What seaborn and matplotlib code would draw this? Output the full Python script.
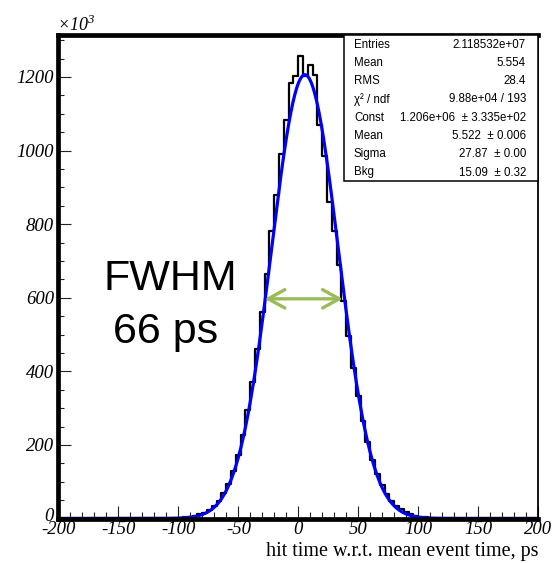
import numpy as np
import pandas as pd
import matplotlib
matplotlib.use("Agg")
import matplotlib.pyplot as plt
import matplotlib.transforms as mtransforms
import seaborn as sns
from matplotlib.ticker import MultipleLocator
from matplotlib.patches import Rectangle

# ---------------- data ----------------
bin_edges = list(range(-200, 201, 4))  # 4 ps bins
counts_k = [  # entries per bin, x10^3
    0.02, 0.02, 0.02, 0.02, 0.02, 0.02, 0.02, 0.02, 0.02, 0.02,
    0.02, 0.02, 0.02, 0.02, 0.02, 0.02, 0.02, 0.02, 0.04, 0.07,
    0.12, 0.2, 0.35, 0.6, 1.0, 1.7, 2.8, 4.5, 7, 11,
    16, 24, 34, 48, 68, 94, 128, 172, 228, 295,
    372, 460, 560, 665, 780, 880, 990, 1083, 1184, 1203,
    1258, 1203, 1232, 1205, 1069, 985, 860, 780, 690, 590,
    495, 410, 333, 265, 207, 160, 121, 90, 66, 48,
    35, 25, 17, 11, 7, 4.5, 2.8, 1.7, 1.0, 0.6,
    0.35, 0.2, 0.12, 0.07, 0.04, 0.02, 0.02, 0.02, 0.02, 0.02,
    0.02, 0.02, 0.02, 0.02, 0.02, 0.02, 0.02, 0.02, 0.02, 0.02,
]
# fit parameters (gaus + constant)
fit_const = 1.206e6
fit_mean = 5.522
fit_sigma = 27.87
fit_bkg = 15.09

stats_names = ["Entries", "Mean", "RMS", "χ² / ndf", "Const", "Mean", "Sigma", "Bkg"]
stats_values = ["2.118532e+07", "5.554", "28.4", "9.88e+04 / 193",
                "1.206e+06  ± 3.335e+02", "5.522  ± 0.006", "27.87  ± 0.00", "15.09  ± 0.32"]
x_ticks = [-200, -150, -100, -50, 0, 50, 100, 150, 200]
y_ticks = [0, 200, 400, 600, 800, 1000, 1200]
xlabel = "hit time w.r.t. mean event time, ps"
fwhm_lines = ["FWHM", "66 ps"]
fwhm_x = (-28, 37)
fwhm_y = 597

# ---------------- figure ----------------
sns.set_style("white")
plt.rcParams["font.family"] = ["Liberation Sans", "DejaVu Sans"]
plt.rcParams["text.color"] = "black"
plt.rcParams["xtick.color"] = "black"
plt.rcParams["ytick.color"] = "black"
plt.rcParams["axes.labelcolor"] = "black"

W, H = 557, 563
fig = plt.figure(figsize=(W / 100, H / 100), dpi=100)
L, R, T, B = 58.3, 538.3, 35.0, 518.5
ax = fig.add_axes([L / W, 1 - B / H, (R - L) / W, (B - T) / H])

centers = [(a + b) / 2 for a, b in zip(bin_edges[:-1], bin_edges[1:])]
df = pd.DataFrame({"t": centers, "w": counts_k})
sns.histplot(data=df, x="t", weights="w", bins=bin_edges, element="step",
             fill=False, color="black", linewidth=1.6, ax=ax)

xs = np.linspace(-200, 200, 801)
fit_k = (fit_const * np.exp(-0.5 * ((xs - fit_mean) / fit_sigma) ** 2) + fit_bkg) / 1000.0
sns.lineplot(x=xs, y=fit_k, color="#0000ff", linewidth=2.3, ax=ax)

ax.set_xlim(-200, 200)
ax.set_ylim(0, 1314)
ax.set_xlabel("")
ax.set_ylabel("")

# FWHM arrow
ax.annotate("", xy=(fwhm_x[1], fwhm_y), xytext=(fwhm_x[0], fwhm_y),
            arrowprops=dict(arrowstyle="<->,head_length=0.6,head_width=0.33",
                            color="#9bbb59", lw=2.4, mutation_scale=20,
                            shrinkA=0, shrinkB=0))

# spines
for s in ["left", "top", "bottom"]:
    ax.spines[s].set_linewidth(3.4)
    ax.spines[s].set_color("black")
ax.spines["right"].set_linewidth(1.3)
ax.spines["right"].set_color("black")

ax.set_xticks(x_ticks)
ax.set_yticks(y_ticks)
ax.set_xticklabels([str(v) for v in x_ticks])
ax.set_yticklabels([str(v) for v in y_ticks])
ax.xaxis.set_minor_locator(MultipleLocator(10))
ax.yaxis.set_minor_locator(MultipleLocator(50))
ax.tick_params(axis="x", which="major", direction="in", length=9.5, width=0.8,
               color="#222222", labelcolor="black", bottom=True, top=False, pad=2)
ax.tick_params(axis="x", which="minor", direction="in", length=5, width=0.8,
               color="#222222", bottom=True, top=False)
ax.tick_params(axis="y", which="major", direction="in", length=9, width=0.8,
               color="#222222", labelcolor="black", left=True, right=False, pad=3)
ax.tick_params(axis="y", which="minor", direction="in", length=4.5, width=0.8,
               color="#222222", left=True, right=False)
for lab in ax.get_xticklabels() + ax.get_yticklabels():
    lab.set_fontfamily("Liberation Serif")
    lab.set_fontstyle("italic")
    lab.set_fontsize(13.5)
# lift the y "0" label a little, as in the reference
ylabs = ax.get_yticklabels()
ylabs[0].set_transform(ylabs[0].get_transform() +
                       mtransforms.ScaledTranslation(0, 4 / 100, fig.dpi_scale_trans))

# stats box
bx0 = (344 - L) / (R - L)
by0 = (B - 181) / (B - T)
ax.add_patch(Rectangle((bx0, by0), 1 - bx0, 1 - by0, transform=ax.transAxes,
                       facecolor="white", edgecolor="black", linewidth=1.1,
                       zorder=5, clip_on=False))
row_y = [45, 63, 81, 99.5, 118, 136, 154, 172.5]
for name, val, yy in zip(stats_names, stats_values, row_y):
    fig.text(354 / W, 1 - yy / H, name, ha="left", va="center", fontsize=8.3,
             family="Liberation Sans", color="black", zorder=6)
    fig.text(526 / W, 1 - yy / H, val, ha="right", va="center", fontsize=8.3,
             family="Liberation Sans", color="black", zorder=6)

# FWHM text
fig.text(170 / W, 1 - 290 / H, fwhm_lines[0], ha="center", va="baseline",
         fontsize=31, family="Liberation Sans", color="black")
fig.text(166 / W, 1 - 343 / H, fwhm_lines[1], ha="center", va="baseline",
         fontsize=31, family="Liberation Sans", color="black")

# x10^3 and x label
fig.text(57 / W, 1 - 31 / H, r"×10$^{\mathregular{3}}$", ha="left", va="baseline",
         fontsize=13, family="Liberation Serif", style="italic", color="black")
fig.text(538 / W, 1 - 556 / H, xlabel, ha="right", va="baseline",
         fontsize=14.5, family="Liberation Serif", color="black")

fig.savefig("out.png", dpi=100)
